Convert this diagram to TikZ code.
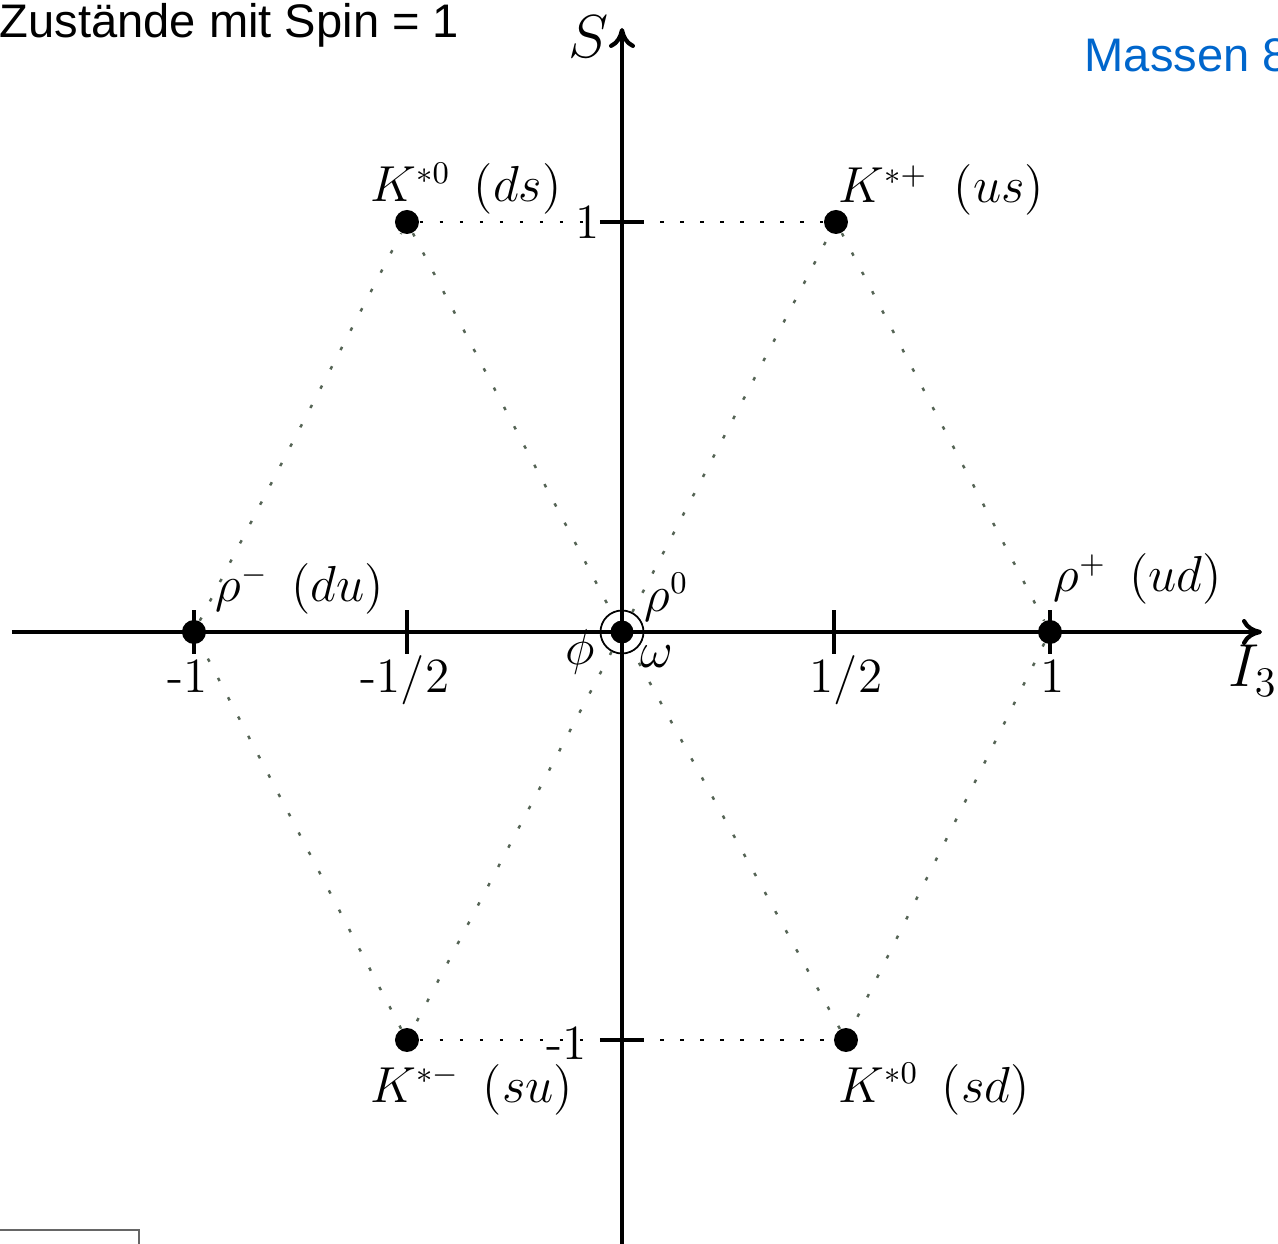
\documentclass[tikz,border=0pt]{standalone}
\usepackage{fontspec}
\setsansfont{Liberation Sans}
\usetikzlibrary{arrows.meta,positioning}
\definecolor{slideblue}{RGB}{0,102,204}
\definecolor{octgray}{RGB}{85,100,85}
\tikzset{
  meson/.style={circle, fill=black, minimum size=2.4mm, inner sep=0pt},
  ring/.style={circle, draw=black, line width=0.5pt, minimum size=4.3mm, inner sep=0pt},
  axis/.style={line width=1.2pt},
  axisarrow/.style={-{Computer Modern Rightarrow[length=2mm,width=2.6mm]}, line width=1.2pt},
  strand/.style={line width=0.8pt, dash pattern=on 1pt off 4.7pt},
  rhomb/.style={line width=0.7pt, octgray, dash pattern=on 1pt off 5.2pt},
  lbl/.style={inner sep=0pt, font=\fontsize{13.5}{16}\selectfont},
  ticklbl/.style={inner sep=0pt, anchor=base, font=\fontsize{14}{16}\selectfont},
  axlbl/.style={inner sep=0pt, anchor=base west, font=\fontsize{18}{20}\selectfont},
  headline/.style={inner sep=0pt, anchor=base west, font=\fontsize{13.4}{16}\sffamily}
}
\begin{document}
\begin{tikzpicture}
\useasboundingbox (-6.22,-6.12) rectangle (6.56,6.32);
\clip (-6.22,-6.12) rectangle (6.56,6.32);
% slide header
\node[headline] (head) at (-6.23,5.94) {Zustände mit Spin = 1};
\node[headline, text=slideblue] (mass) at (4.62,5.60) {Massen 8};
\draw[black!60, line width=0.8pt] (-6.30,-5.98) -- (-4.83,-5.98) -- (-4.83,-6.30);
% axes
\coordinate (xlo) at (-6.10,0);
\coordinate (xhi) at (6.40,0);
\coordinate (ylo) at (0,-6.30);
\coordinate (yhi) at (0,6.04);
\draw[axisarrow] (xlo) -- (xhi);
\draw[axisarrow] (ylo) -- (yhi);
\node[axlbl] (lblI) at (6.06,-0.55) {$I_3$};
\node[axlbl] (lblS) at (-0.54,5.74) {$S$};
% ticks
\foreach \x in {-4.28,-2.15,2.12,4.28}
  \draw[axis] (\x,-0.22) -- (\x,0.22);
\foreach \y in {4.10,-4.08}
  \draw[axis] (-0.22,\y) -- (0.22,\y);
\node[ticklbl] (tm1) at (-4.34,-0.61) {-1};
\node[ticklbl] (tmh) at (-2.17,-0.61) {-1/2};
\node[ticklbl] (tph) at (2.24,-0.61) {1/2};
\node[ticklbl] (tp1) at (4.31,-0.61) {1};
\node[ticklbl] (sp1) at (-0.34,3.93) {1};
\node[ticklbl] (sm1) at (-0.55,-4.28) {-1};
% vector mesons
\node[meson] (kds) at (-2.15,4.10) {};
\node[meson] (kus) at (2.14,4.10) {};
\node[meson] (rhom) at (-4.28,0) {};
\node[meson] (rhop) at (4.28,0) {};
\node[meson] (ksu) at (-2.15,-4.08) {};
\node[meson] (ksd) at (2.24,-4.08) {};
\node[meson, minimum size=2.3mm] (midDot) at (0,0) {};
\node[ring] (mid) at (0,0) {};
% octet
\draw[strand] (kds) -- (kus);
\draw[strand] (ksu) -- (ksd);
\draw[rhomb] (rhom) -- (kds);
\draw[rhomb] (kds) -- (mid);
\draw[rhomb] (mid) -- (ksu);
\draw[rhomb] (ksu) -- (rhom);
\draw[rhomb] (mid) -- (kus);
\draw[rhomb] (kus) -- (rhop);
\draw[rhomb] (rhop) -- (ksd);
\draw[rhomb] (ksd) -- (mid);
% names
\node[lbl, anchor=base west] (nkds) at (-2.52,4.30) {$K^{*0}\hspace{2.3mm}(ds)$};
\node[lbl, anchor=base west] (nkus) at (2.16,4.29) {$K^{*+}\hspace{2.6mm}(us)$};
\node[lbl, anchor=base west] (nrhom) at (-4.07,0.30) {$\rho^-\hspace{2.3mm}(du)$};
\node[lbl, anchor=base west] (nrhop) at (4.31,0.40) {$\rho^+\hspace{2.3mm}(ud)$};
\node[lbl, anchor=base west] (nrho0) at (0.22,0.20) {$\rho^0$};
\node[lbl] (nphi) at (-0.42,-0.20) {$\phi$};
\node[lbl] (nomega) at (0.35,-0.25) {$\omega$};
\node[lbl, anchor=base west] (nksu) at (-2.52,-4.70) {$K^{*-}\hspace{2.3mm}(su)$};
\node[lbl, anchor=base west] (nksd) at (2.16,-4.70) {$K^{*0}\hspace{2.3mm}(sd)$};
\end{tikzpicture}
\end{document}
